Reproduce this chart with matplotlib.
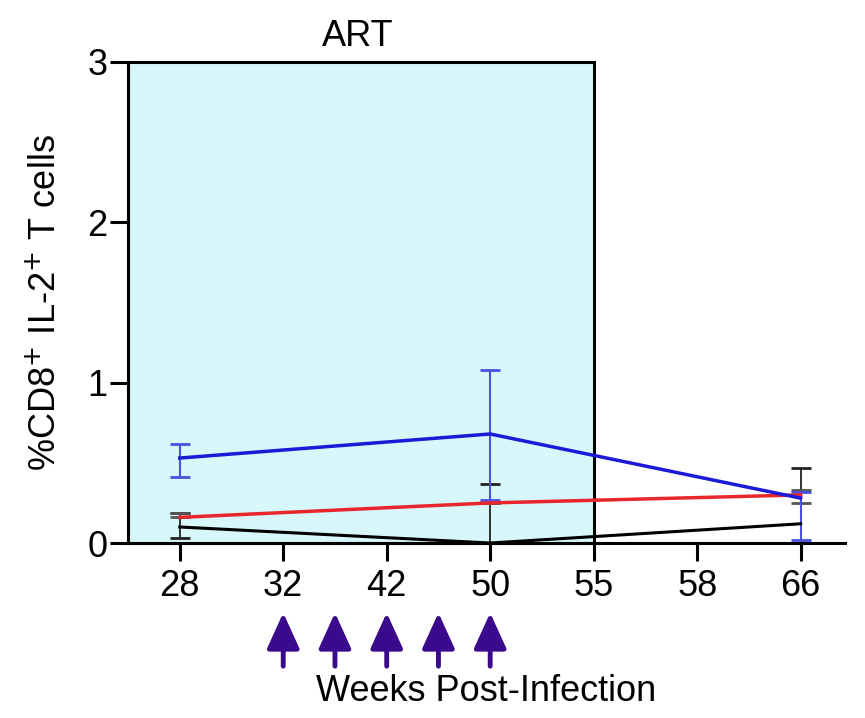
import numpy as np
import matplotlib.pyplot as plt
from matplotlib.patches import Rectangle, FancyArrowPatch
from matplotlib.transforms import blended_transform_factory

plt.rcParams['font.family'] = ['Liberation Sans', 'DejaVu Sans']

# 数据
weeks = ['28', '32', '42', '50', '55', '58', '66']
pts = [0, 3, 6]  # 有数据的周: 28, 50, 66

blue = [0.53, 0.68, 0.28]
blue_lo = [0.12, 0.41, 0.26]
blue_hi = [0.09, 0.40, 0.04]

red = [0.16, 0.25, 0.30]
red_lo = [0.0, 0.0, 0.05]
red_hi = [0.03, 0.0, 0.03]

black = [0.10, 0.0, 0.12]
black_lo = [0.07, 0.0, 0.12]
black_hi = [0.09, 0.37, 0.35]

art_end = 4  # ART 到 55 周
arrow_x = [1, 1.5, 2, 2.5, 3]

fs = 26

fig = plt.figure(figsize=(8.65, 7.18), dpi=100)
ax = fig.add_axes([0.148, 0.2437, 0.829, 0.67])

# ART 阴影区
ax.add_patch(Rectangle((-0.5, 0), art_end + 0.5, 3, facecolor='#d8f7fa',
                       edgecolor='black', lw=2.2, zorder=1, clip_on=False))
ax.text((art_end - 0.5) / 2 - 0.03, 3.05, 'ART', ha='center', va='bottom', fontsize=fs)

# 误差线
ax.errorbar(pts, black, yerr=[black_lo, black_hi], color='#222222', lw=0,
            elinewidth=1.3, capsize=7, capthick=2, zorder=3)
ax.errorbar(pts, red, yerr=[red_lo, red_hi], color='#555555', lw=0,
            elinewidth=1.3, capsize=7, capthick=2, zorder=3)
ax.errorbar(pts, blue, yerr=[blue_lo, blue_hi], color='#4a50e0', lw=0,
            elinewidth=1.5, capsize=7, capthick=2, zorder=3)

# 折线
ax.plot(pts, black, color='black', lw=2.2, zorder=4)
ax.plot(pts, red, color='#e8262b', lw=2.5, zorder=4)
ax.plot(pts, blue, color='#1a1ad8', lw=2.5, zorder=4)

ax.set_xlim(-0.5, 6.43)
ax.set_ylim(0, 3)
ax.set_xticks(range(len(weeks)))
ax.set_xticklabels(weeks)
ax.set_yticks([0, 1, 2, 3])
ax.tick_params(axis='both', labelsize=fs, width=2.2, length=13, direction='out')
ax.tick_params(axis='x', pad=6)
ax.tick_params(axis='y', pad=2)
for s in ['top', 'right']:
    ax.spines[s].set_visible(False)
for s in ['left', 'bottom']:
    ax.spines[s].set_linewidth(2.2)
    ax.spines[s].set_zorder(5)

ax.set_ylabel('%CD8$^{+}$ IL-2$^{+}$ T cells', fontsize=fs)
ax.yaxis.set_label_coords(-0.09, 0.5)
ax.set_xlabel('Weeks Post-Infection', fontsize=fs)
ax.xaxis.set_label_coords(0.5, -0.272)

# 给药箭头
tr = blended_transform_factory(ax.transData, ax.transAxes)
for x in arrow_x:
    arr = FancyArrowPatch((x, -0.256), (x, -0.145), transform=tr,
                          arrowstyle='-|>,head_length=22,head_width=10',
                          mutation_scale=1, color='#3b0a8c', lw=3.5,
                          shrinkA=0, shrinkB=0, clip_on=False)
    ax.add_patch(arr)

fig.savefig('out.png', dpi=100)
